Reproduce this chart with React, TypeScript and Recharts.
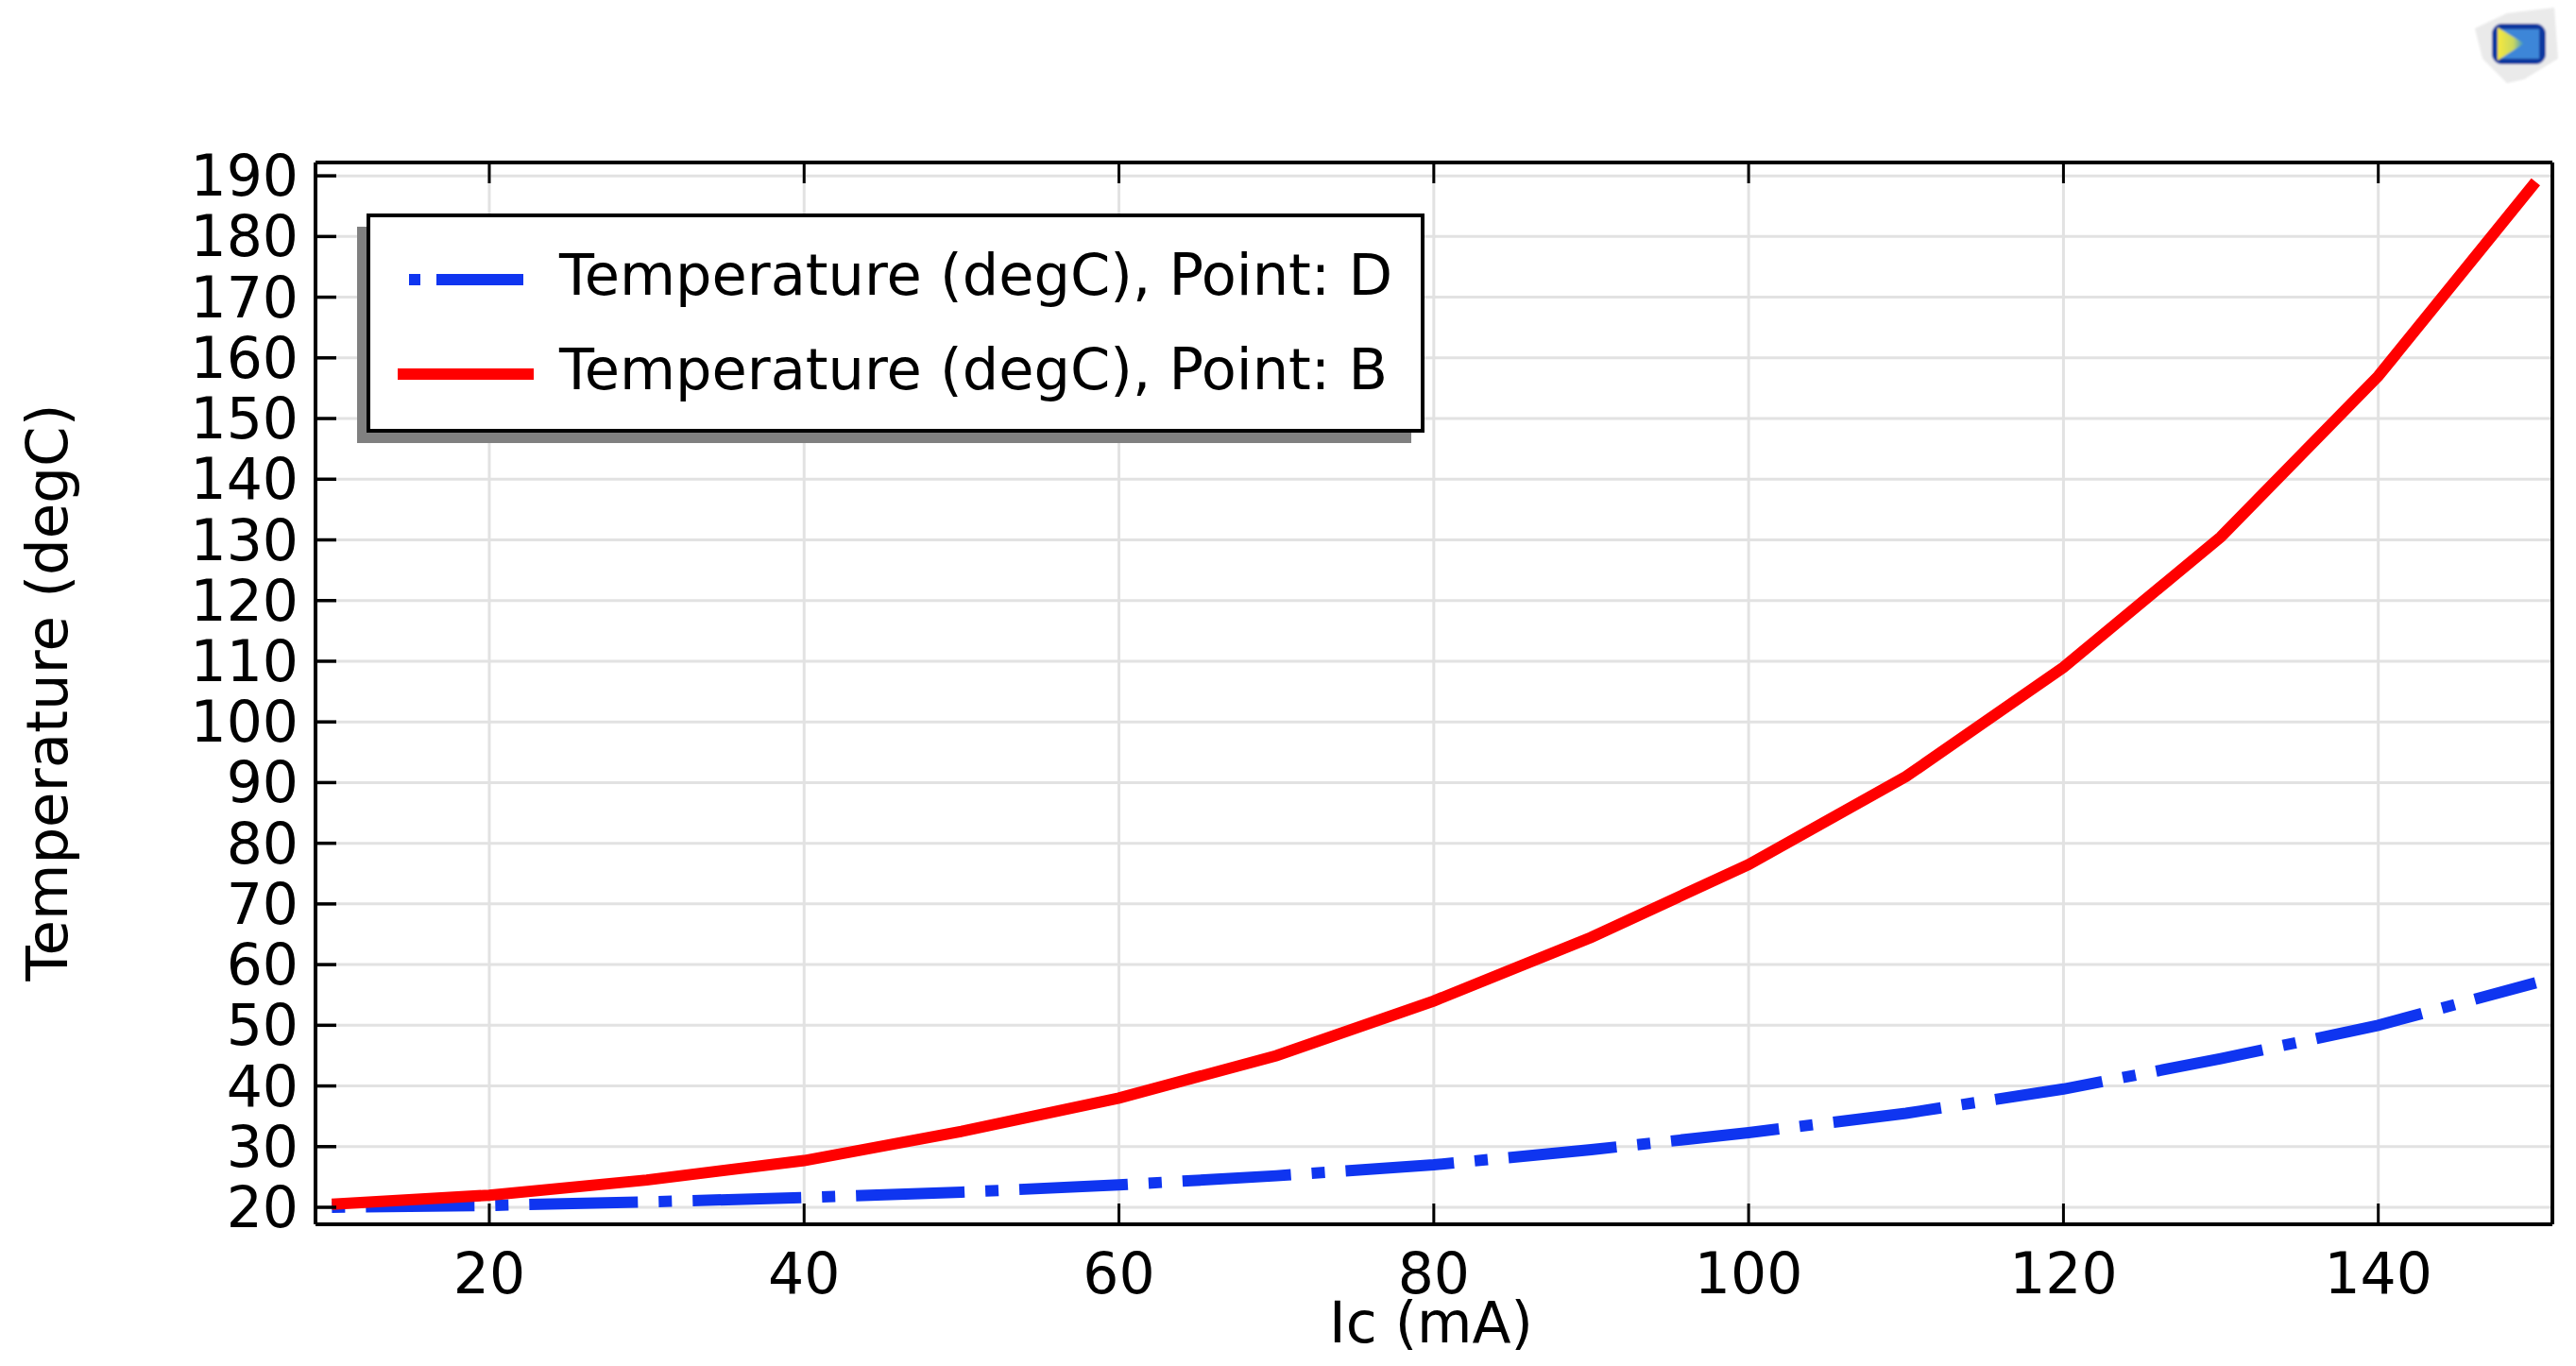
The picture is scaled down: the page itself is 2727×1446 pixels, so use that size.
import { CartesianGrid, Label, Legend, Line, LineChart, XAxis, YAxis } from "recharts";

const currents = [10, 20, 30, 40, 50, 60, 70, 80, 90, 100, 110, 120, 130, 140, 150];
const pointD = [20, 20.3, 20.9, 21.6, 22.5, 23.7, 25.2, 27, 29.5, 32.3, 35.5, 39.5, 44.5, 50, 57];
const pointB = [20.5, 22, 24.5, 27.7, 32.5, 38, 45, 54, 64.5, 76.5, 91, 109, 130.5, 157, 189];
const xTicks = [20, 40, 60, 80, 100, 120, 140];
const yTicks = [20, 30, 40, 50, 60, 70, 80, 90, 100, 110, 120, 130, 140, 150, 160, 170, 180, 190];

const tableData = currents.map((ic, i) => ({ ic, d: pointD[i], b: pointB[i] }));

const FONT = "'DejaVu Sans'";
const BLUE = "#0f35f0";
const RED = "#ff0000";
const DASH = "14 22 115 22";
const TICK_LEN = 22;
const X_DOMAIN = [8.96, 151.06];

function LeftTick({ x, y, payload }: any) {
  return (
    <g>
      <line x1={x} x2={x + TICK_LEN} y1={y} y2={y} stroke="#000" strokeWidth={3.5} />
      <text x={x - 18} y={y} textAnchor="end" dominantBaseline="central" fontFamily={FONT} fontSize={60} fill="#000">
        {payload.value}
      </text>
    </g>
  );
}

function BottomTick({ x, y, payload }: any) {
  return (
    <g>
      <line x1={x} x2={x} y1={y - TICK_LEN} y2={y} stroke="#000" strokeWidth={3} />
      <text x={x} y={y + 52} textAnchor="middle" dominantBaseline="central" fontFamily={FONT} fontSize={60} fill="#000">
        {payload.value}
      </text>
    </g>
  );
}

function RightTick({ x, y }: any) {
  return <line x1={x - TICK_LEN} x2={x} y1={y} y2={y} stroke="#000" strokeWidth={3.5} />;
}

function TopTick({ x, y }: any) {
  return <line x1={x} x2={x} y1={y} y2={y + TICK_LEN} stroke="#000" strokeWidth={3} />;
}

function LegendBox({ payload }: any) {
  return (
    <svg width={1140} height={250} style={{ display: "block" }}>
      <rect x={0} y={14} width={1116} height={229} fill="#808080" />
      <rect x={12} y={2} width={1116} height={228} fill="#fff" stroke="#000" strokeWidth={4} />
      {(payload || []).map((entry: any, i: number) => {
        const rowY = 70 + i * 100;
        return (
          <g key={entry.value}>
            <line
              x1={i === 0 ? 55 : 43}
              x2={i === 0 ? 176 : 187}
              y1={rowY}
              y2={rowY}
              stroke={entry.color}
              strokeWidth={12}
              strokeDasharray={i === 0 ? "12 17 92 0" : undefined}
            />
            <text x={214} y={rowY + 16} fontFamily={FONT} fontSize={60.6} fill="#000">
              {entry.value}
            </text>
          </g>
        );
      })}
    </svg>
  );
}

function Logo() {
  return (
    <svg width={100} height={100} style={{ position: "absolute", left: 2614, top: 0 }}>
      <defs>
        <linearGradient id="logoFill" x1="0" x2="1" y1="0" y2="0">
          <stop offset="0" stopColor="#f7e83c" />
          <stop offset="0.6" stopColor="#c8d860" />
          <stop offset="1" stopColor="#2f8fd0" />
        </linearGradient>
        <filter id="logoBlur">
          <feGaussianBlur stdDeviation="1.2" />
        </filter>
      </defs>
      <g filter="url(#logoBlur)">
        <path d="M6 30 L40 14 L90 8 L94 62 L58 84 L40 88 L14 62 Z" fill="#eaeaea" />
        <rect x={24} y={25} width={57} height={43} rx={11} fill="#10389f" />
        <rect x={34} y={31} width={40} height={31} fill="#3c86d8" />
        <path d="M30 29 L58 46 L30 64 Z" fill="url(#logoFill)" />
      </g>
    </svg>
  );
}

export default function App() {
  return (
    <div style={{ position: "fixed", left: 0, top: 0, width: 2727, height: 1446, background: "#fff" }}>
      <LineChart width={2727} height={1446} data={tableData} margin={{ top: 0, right: 0, bottom: 0, left: 0 }}>
        <CartesianGrid stroke="#e2e2e2" strokeWidth={3} horizontalValues={yTicks} verticalValues={xTicks} />
        <XAxis
          dataKey="ic"
          type="number"
          domain={X_DOMAIN}
          ticks={xTicks}
          interval={0}
          height={150}
          tickSize={0}
          tickMargin={0}
          tickLine={false}
          axisLine={{ stroke: "#000", strokeWidth: 4 }}
          tick={<BottomTick />}
        >
          <Label
            content={() => (
              <text x={1515} y={1400} textAnchor="middle" dominantBaseline="central" fontFamily={FONT} fontSize={60} fill="#000">
                Ic (mA)
              </text>
            )}
          />
        </XAxis>
        <XAxis
          xAxisId="top"
          dataKey="ic"
          type="number"
          orientation="top"
          domain={X_DOMAIN}
          ticks={xTicks}
          interval={0}
          height={172}
          tickSize={0}
          tickMargin={0}
          tickLine={false}
          axisLine={{ stroke: "#000", strokeWidth: 4 }}
          tick={<TopTick />}
        />
        <YAxis
          type="number"
          domain={[17.2, 192.2]}
          ticks={yTicks}
          interval={0}
          width={334}
          tickSize={0}
          tickMargin={0}
          tickLine={false}
          axisLine={{ stroke: "#000", strokeWidth: 4 }}
          tick={<LeftTick />}
        >
          <Label
            content={() => (
              <text
                x={49}
                y={733}
                transform="rotate(-90 49 733)"
                textAnchor="middle"
                dominantBaseline="central"
                fontFamily={FONT}
                fontSize={61}
                fill="#000"
              >
                Temperature (degC)
              </text>
            )}
          />
        </YAxis>
        <YAxis
          yAxisId="right"
          type="number"
          orientation="right"
          domain={[17.2, 192.2]}
          ticks={yTicks}
          interval={0}
          width={25}
          tickSize={0}
          tickMargin={0}
          tickLine={false}
          axisLine={{ stroke: "#000", strokeWidth: 4 }}
          tick={<RightTick />}
        />
        <Legend
          layout="horizontal"
          verticalAlign="middle"
          itemSorter={null}
          content={<LegendBox />}
          wrapperStyle={{ left: 378, top: 226, width: 1140, height: 250 }}
        />
        <Line
          dataKey="d"
          name="Temperature (degC), Point: D"
          type="linear"
          stroke={BLUE}
          strokeWidth={12}
          strokeDasharray={DASH}
          strokeLinecap="butt"
          dot={false}
          isAnimationActive={false}
        />
        <Line
          dataKey="b"
          name="Temperature (degC), Point: B"
          type="linear"
          stroke={RED}
          strokeWidth={12}
          strokeLinecap="butt"
          dot={false}
          isAnimationActive={false}
        />
      </LineChart>
      <Logo />
    </div>
  );
}
